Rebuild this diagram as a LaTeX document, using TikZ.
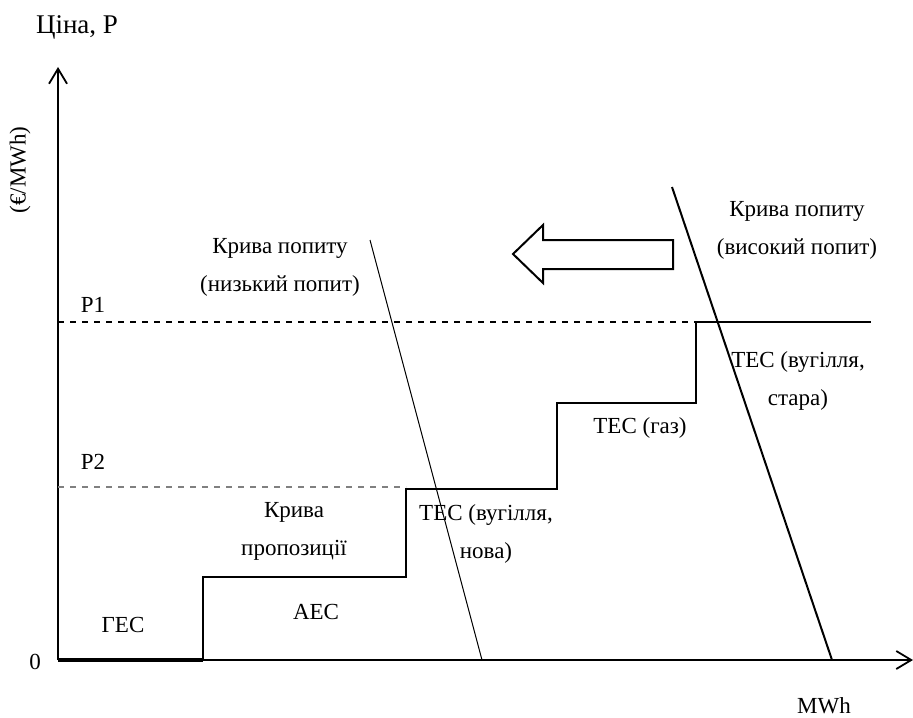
\documentclass[tikz,border=0pt]{standalone}
\usepackage{fontspec}
\setmainfont{Liberation Serif}
\usetikzlibrary{arrows.meta, positioning, calc}
\tikzstyle{label} = [inner sep=0pt, align=center, font=\fontsize{11.5}{19}\selectfont]
\tikzstyle{axis} = [line width=1pt, -{Straight Barb[length=7.5pt, width=9pt, line width=0.9pt]}]
\tikzstyle{supply} = [line width=1.2pt]
\tikzstyle{demand} = [line width=0.5pt]
\tikzstyle{guide} = [dashed, line width=0.7pt]

\begin{document}
\begin{tikzpicture}[x=0.5pt, y=-0.5pt]
\useasboundingbox (0,0) rectangle (913,717);

% Axes
\coordinate (origin) at (58,660);
\coordinate (ytop) at (58,67);
\coordinate (xend) at (913,660);
\draw [axis] (origin) -- (ytop);
\draw [axis] (origin) -- (xend);

% Supply curve steps
\coordinate (s1) at (203,660);
\coordinate (s2) at (203,577);
\coordinate (s3) at (406,577);
\coordinate (s4) at (406,489);
\coordinate (s5) at (557,489);
\coordinate (s6) at (557,403);
\coordinate (s7) at (696,403);
\coordinate (s8) at (696,322);
\coordinate (s9) at (871,322);
\draw [line width=1.8pt] (origin) -- (s1);
\draw [supply] (s1) -- (s2) -- (s3) -- (s4) -- (s5) -- (s6) -- (s7) -- (s8) -- (s9);

% Price levels
\coordinate (p1left) at (58,322);
\coordinate (p2left) at (58,487);
\draw [guide] (p1left) -- (s8);
\draw [guide, gray, line width=0.6pt] (p2left) -- (406,487);

% Demand curves
\coordinate (lowtop) at (370,240);
\coordinate (lowbot) at (482,660);
\coordinate (hightop) at (672,187);
\coordinate (highbot) at (832,660);
\draw [demand] (lowtop) -- (lowbot);
\draw [line width=1pt] (hightop) -- (highbot);

% Shift arrow
\draw [line width=1pt] (673,240) -- (543,240) -- (543,225) -- (513,254)
  -- (543,283) -- (543,269) -- (673,269) -- cycle;

% Axis labels
\node (price) [label, font=\fontsize{13.5}{16}\selectfont] at (77,27) {Ціна, P};
\node (unit) [label, rotate=90] at (20,170) {(€/MWh)};
\node (zero) [label] at (35,662) {0};
\node (mwh) [label, anchor=base] at (824,713) {MWh};
\node (p1) [label] at (93,305) {P1};
\node (p2) [label] at (93,462) {P2};

% Curve labels
\node (lowlabel) [label] at (280,267) {Крива попиту\\(низький попит)};
\node (highlabel) [label] at (797,230) {Крива попиту\\(високий попит)};
\node (supplylabel) [label] at (294,531) {Крива\\пропозиції};

% Plant labels
\node (hydro) [label] at (123,625) {ГЕС};
\node (nuclear) [label] at (316,612) {АЕС};
\node (coalnew) [label] at (486,534) {ТЕС (вугілля,\\нова)};
\node (gas) [label] at (640,428) {ТЕС (газ)};
\node (coalold) [label] at (798,381) {ТЕС (вугілля,\\стара)};

\end{tikzpicture}
\end{document}
